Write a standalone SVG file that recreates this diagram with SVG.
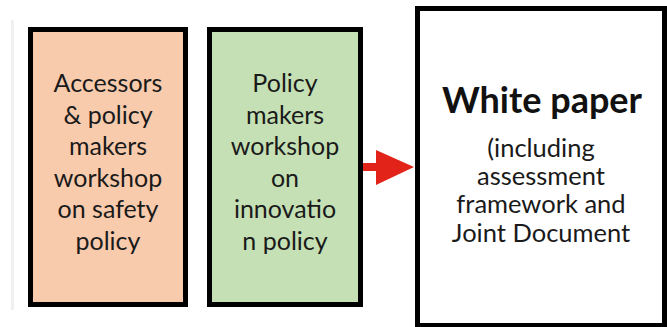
<svg xmlns="http://www.w3.org/2000/svg" width="667" height="327" viewBox="0 0 667 327">
<style>
.box{stroke:#000;stroke-width:5}
.t{font-family:Lato,"Open Sans","Liberation Sans",sans-serif;font-size:25px;fill:#1a1a1a;text-anchor:middle}
.t3{font-family:Lato,"Open Sans","Liberation Sans",sans-serif;font-size:25.5px;fill:#1a1a1a;text-anchor:middle}
.tb{font-family:Lato,"Open Sans","Liberation Sans",sans-serif;font-size:36px;font-weight:bold;fill:#111;text-anchor:middle}
</style>
<rect width="667" height="327" fill="#fff"/>
<rect x="11" y="20" width="3" height="290" fill="#f0f0f0"/>
<g id="node-safety">
<rect class="box" x="30.5" y="29.5" width="155" height="275" fill="#F8CBAD"/>
<text class="t" x="108" y="92">Accessors</text>
<text class="t" x="108" y="124">&amp; policy</text>
<text class="t" x="108" y="155">makers</text>
<text class="t" x="108" y="187">workshop</text>
<text class="t" x="108" y="218">on safety</text>
<text class="t" x="108" y="250">policy</text>
</g>
<g id="node-innovation">
<rect class="box" x="209.5" y="29.5" width="151" height="275" fill="#C5E0B4"/>
<text class="t" x="285" y="92">Policy</text>
<text class="t" x="285" y="124">makers</text>
<text class="t" x="285" y="155">workshop</text>
<text class="t" x="285" y="187">on</text>
<text class="t" x="285" y="218">innovatio</text>
<text class="t" x="285" y="250">n policy</text>
</g>
<g id="node-whitepaper">
<rect class="box" x="417.5" y="8.5" width="247" height="317" fill="#fff"/>
<text class="tb" x="542" y="113">White paper</text>
<text class="t3" x="541" y="157">(including</text>
<text class="t3" x="541" y="185">assessment</text>
<text class="t3" x="541" y="213">framework and</text>
<text class="t3" x="541" y="242">Joint Document</text>
</g>
<g id="connectors">
<path d="M363 163 H376 V150 L414 167 L376 185 V171 H363 Z" fill="#E2231A"/>
</g>
</svg>
